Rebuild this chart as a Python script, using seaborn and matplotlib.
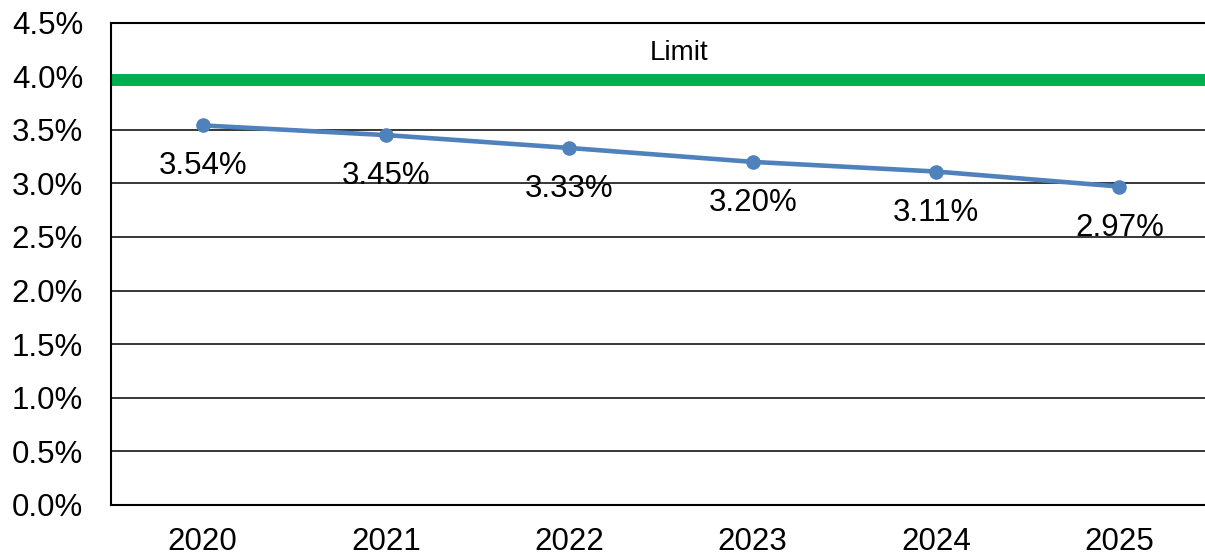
import matplotlib
matplotlib.use("Agg")
import matplotlib.pyplot as plt
import seaborn as sns
import pandas as pd

years = ["2020", "2021", "2022", "2023", "2024", "2025"]
rates = [3.54, 3.45, 3.33, 3.20, 3.11, 2.97]
limit_value = 3.96
limit_label = "Limit"

sns.set_theme(style="white")
plt.rcParams['font.family'] = ['Liberation Sans', 'DejaVu Sans']

df = pd.DataFrame({'year': years, 'rate': rates})

fig = plt.figure(figsize=(12.05, 5.57), dpi=100)
# plot area runs a little past the right edge of the picture, like the original
ax = fig.add_axes([0.0921, 0.0934, 0.9129, 0.8662])

ax.set_ylim(0, 4.5)
ax.set_yticks([i * 0.5 for i in range(10)])
ax.yaxis.grid(True, color='black', linewidth=1.1)
ax.set_axisbelow(True)

ax.axhline(limit_value, color='#00B050', linewidth=8.6, zorder=2)

sns.lineplot(data=df, x='year', y='rate', ax=ax, color='#4F81BD',
             linewidth=3.3, marker='o', markersize=10.5, markeredgewidth=0,
             sort=False, zorder=3)

for yr, v in zip(years, rates):
    ax.annotate(f"{v:.2f}%", (yr, v), xytext=(0, -29.5), textcoords='offset points',
                ha='center', va='center', fontsize=22.5, color='black')

ax.text(2.60, 4.22, limit_label, ha='center', va='center', fontsize=20, color='black')

ax.set_xlim(-0.5, 5.5)
ax.set_yticklabels([f"{t:.1f}%" for t in ax.get_yticks()])
ax.tick_params(axis='both', length=0, labelsize=22.5, labelcolor='black')
ax.tick_params(axis='y', pad=20)
ax.tick_params(axis='x', pad=16)
ax.set_xlabel('')
ax.set_ylabel('')
ax.spines['right'].set_visible(False)
for s in ax.spines.values():
    s.set_color('black')
    s.set_linewidth(1.5)

fig.savefig('out.png', dpi=100)
